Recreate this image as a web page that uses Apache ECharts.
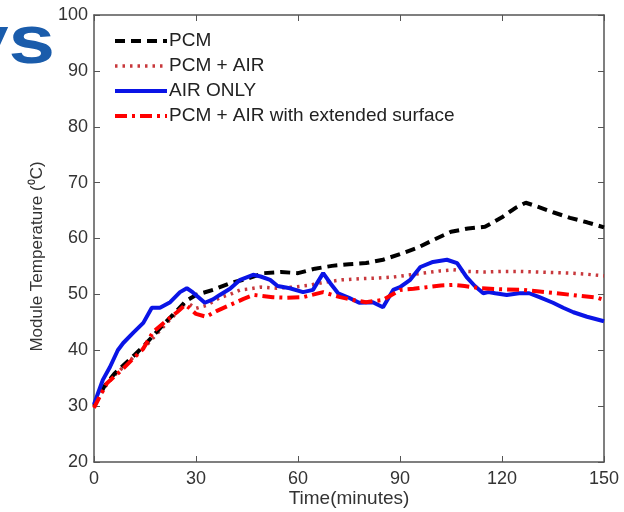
<!DOCTYPE html>
<html>
<head>
<meta charset="utf-8">
<script src="https://cdn.jsdelivr.net/npm/echarts@6/dist/echarts.min.js"></script>
<style>html,body{margin:0;padding:0;background:#fff}#c{width:624px;height:512px}</style>
</head>
<body>
<div id="c"></div>
<script>
// ---- data ----
var xTicks = [0, 30, 60, 90, 120, 150];
var yTicks = [20, 30, 40, 50, 60, 70, 80, 90, 100];
var xName = 'Time(minutes)';
var yName = 'Module Temperature (\u2070C)';

var pcmT = [0,3,6,9,12,15,18,21,24,27,30,35,40,45,50,55,60,65,70,75,80,85,90,95,100,105,110,115,120,124,127,130,135,140,145,150];
var pcmV = [30,33.5,35.8,37.5,39.2,41,43,45,46.8,48.8,49.9,50.8,52,52.8,53.8,54,53.8,54.6,55.1,55.4,55.6,56.2,57.2,58.3,59.8,61.2,61.8,62.1,63.8,65.5,66.4,65.8,64.7,63.7,62.9,62.0];

var pcmAirT = [0,3,6,9,12,15,18,21,24,26.3,28,30,33,37,40,43,46,49,53.8,58.6,63,68,73,78,83,88,93,98,101.8,105.6,110,115,120,125,130,135,140,145,150];
var pcmAirV = [30,33.3,35.5,37.2,39,40.6,42.6,44.6,46.5,48.1,48.3,47.5,48,49.4,50,50.8,51,51.3,51.1,51.3,51.6,52.2,52.6,52.8,52.9,53.1,53.5,53.9,54.2,54.4,54.1,54,54.1,54.1,54.0,53.9,53.8,53.6,53.3];

var airT = [0,1,2.6,4.7,7,8.6,11.5,14.5,17,19.4,22.4,25.3,27.3,29,32.6,35,37,40,43,46.8,49,51.8,54,57.6,61.5,64.4,67.4,69.5,71.8,75,78,82,85,88,90,93,96,99.7,103.8,106.8,109.6,112,114.5,116,118,121.4,125,128,131,135,138,141,145,150];
var airV = [30.3,32,34.7,37,40,41.3,43.1,44.9,47.6,47.6,48.6,50.4,51.1,50.4,48.5,49.1,49.9,51,52.6,53.5,53.2,52.6,51.5,51.1,50.4,50.8,53.8,52,50.2,49.4,48.5,48.6,47.7,50.8,51.3,52.6,54.9,55.8,56.2,55.6,53.1,51.5,50.2,50.4,50.2,49.9,50.2,50.2,49.5,48.5,47.6,46.8,46.0,45.2];

var extT = [0,1.5,3.8,8.2,11,14.4,17.4,21.5,24.4,26.8,28,30,33,36,40,44,47,52.6,56.7,61.5,67.4,72.4,76,80,85,90,94,98,102,105.6,109,113.5,120,126,131,136,142,148,150];
var extV = [29.7,31.5,34.1,36.5,38.2,40.2,43.3,45.4,46.8,48.1,47.6,46.5,46,47,48.1,49.2,49.9,49.5,49.4,49.5,50.4,49.5,49,48.6,49,50.8,51,51.3,51.6,51.7,51.5,51.1,50.9,50.8,50.5,50.2,49.8,49.4,49.0];

var names = ['PCM', 'PCM + AIR', 'AIR ONLY', 'PCM + AIR with extended surface'];

function pairs(t, v) { return t.map(function (x, i) { return [x, v[i]]; }); }

var chart = echarts.init(document.getElementById('c'));
var axisCol = '#555';
var FF = 'Liberation Sans, Arial, sans-serif';
var lblFont = { color: '#333', fontSize: 18, fontFamily: FF };

function xAx(pos, show) {
  return {
    type: 'value', position: pos, min: 0, max: 150, interval: 30,
    axisLine: { show: true, onZero: false, lineStyle: { color: axisCol, width: 1.5 } },
    axisTick: { show: true, inside: true, length: 6, lineStyle: { color: axisCol } },
    axisLabel: show ? Object.assign({ margin: 8, formatter: function (v) { return xTicks.indexOf(v) >= 0 ? String(v) : ''; } }, lblFont) : { show: false },
    splitLine: { show: false }
  };
}
function yAx(pos, show) {
  return {
    type: 'value', position: pos, min: 20, max: 100, interval: 10,
    axisLine: { show: true, onZero: false, lineStyle: { color: axisCol, width: 1.5 } },
    axisTick: { show: true, inside: true, length: 6, lineStyle: { color: axisCol } },
    axisLabel: show ? Object.assign({ margin: 6, formatter: function (v) { return yTicks.indexOf(v) >= 0 ? String(v) : ''; } }, lblFont) : { show: false },
    splitLine: { show: false },
    name: show ? yName : '', nameLocation: 'middle', nameGap: 48,
    nameTextStyle: { color: '#333', fontSize: 17, fontFamily: FF, padding: [0, 36, 0, 0] }
  };
}

var legendLine = [
  { width: 4, type: [10, 6] },
  { width: 3.5, type: [2.5, 5] },
  { width: 4, type: 'solid' },
  { width: 4, type: [12, 5, 3, 5] }
];

chart.setOption({
  animation: false,
  backgroundColor: '#fff',
  grid: { left: 94, right: 20, top: 15, bottom: 50, containLabel: false, outerBoundsMode: 'none' },
  xAxis: [xAx('bottom', true), xAx('top', false)],
  yAxis: [yAx('left', true), yAx('right', false)],
  legend: {
    orient: 'vertical', left: 108, top: 26, itemWidth: 52, itemHeight: 14, itemGap: 5,
    itemStyle: { color: 'rgba(0,0,0,0)', borderWidth: 0, opacity: 0 },
    data: names.map(function (n, i) { return { name: n, lineStyle: legendLine[i] }; }),
    textStyle: { color: '#222', fontSize: 19, lineHeight: 20, fontFamily: FF, padding: [0, 0, 0, -3] }
  },
  graphic: [{
    type: 'text', x: -38, y: 9.5, scaleX: 0.93, scaleY: 0.77, silent: true,
    style: { text: 'vs', fontSize: 90, fontWeight: 'bold', fill: '#1a5cab', fontFamily: FF }
  }, {
    type: 'text', x: 349, y: 499, silent: true,
    style: { text: xName, fontSize: 19, fill: '#333', fontFamily: FF, align: 'center', verticalAlign: 'middle' }
  }],
  series: [
    { name: names[0], type: 'line', symbol: 'none', data: pairs(pcmT, pcmV), z: 3,
      lineStyle: { color: '#000', width: 4, type: [10, 6] }, itemStyle: { color: '#000' } },
    { name: names[1], type: 'line', symbol: 'none', data: pairs(pcmAirT, pcmAirV), z: 2,
      lineStyle: { color: '#c8383c', width: 3.5, type: [2.5, 5] }, itemStyle: { color: '#c8383c' } },
    { name: names[2], type: 'line', symbol: 'none', data: pairs(airT, airV), z: 4,
      lineStyle: { color: '#0a14e6', width: 4 }, itemStyle: { color: '#0a14e6' } },
    { name: names[3], type: 'line', symbol: 'none', data: pairs(extT, extV), z: 5,
      lineStyle: { color: '#ff0000', width: 4, type: [12, 5, 3, 5] }, itemStyle: { color: '#ff0000' } }
  ]
});
</script>
</body>
</html>
